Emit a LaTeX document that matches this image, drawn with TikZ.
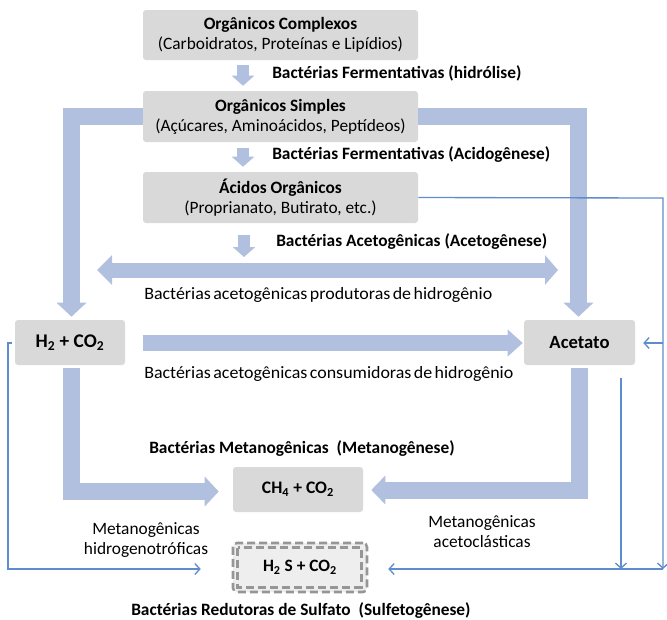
\documentclass[tikz,border=0pt]{standalone}
\usepackage{fontspec}
\setmainfont{Carlito}
\newfontfamily\widefont[FakeStretch=1.035,WordSpace=0.6]{Carlito}
\usetikzlibrary{arrows.meta,calc}
\definecolor{arrowblue}{RGB}{176,192,222}
\definecolor{boxgray}{RGB}{217,217,217}
\definecolor{lineblue}{RGB}{95,140,205}
\definecolor{dashgray}{RGB}{150,150,150}
\definecolor{h2sfill}{RGB}{238,238,238}
\begin{document}
\begin{tikzpicture}[x=0.75pt,y=-0.75pt,
  box/.style={fill=boxgray, rounded corners=2.25pt, align=center, inner sep=0pt, font=\fontsize{13}{15}\selectfont},
  lbl/.style={anchor=west, inner sep=0pt, font=\fontsize{13}{15}\selectfont\bfseries},
  nlbl/.style={inner sep=0pt, font=\fontsize{13}{15}\selectfont, align=center},
  wlbl/.style={inner sep=0pt, anchor=west, font=\fontsize{13}{15}\widefont},
  bigarrow/.style={draw=arrowblue, line width=12.75pt, -{Triangle[width=21.75pt,length=10.5pt]}},
  smallarrow/.style={draw=arrowblue, line width=9pt, -{Triangle[width=16.5pt,length=7.5pt]}},
  thinline/.style={draw=lineblue, line width=1pt},
  tarrow/.style={thinline, -{Straight Barb[length=3.75pt,width=8.25pt]}}
]
\useasboundingbox (0,0) rectangle (667,619);

% boxes
\node[box, minimum width=206.25pt, minimum height=37.5pt] (b1) at (280.5,35)
  {\textbf{Orgânicos Complexos}\\(Carboidratos, Proteínas e Lipídios)};
\node[box, minimum width=206.25pt, minimum height=38.25pt] (b2) at (280.5,116.5)
  {\textbf{Orgânicos Simples}\\(Açúcares, Aminoácidos, Peptídeos)};
\node[box, minimum width=206.25pt, minimum height=38.25pt] (b3) at (280.5,197.5)
  {\textbf{Ácidos Orgânicos}\\(Proprianato, Butirato, etc.)};
\node[box, minimum width=82.5pt, minimum height=33.75pt, font=\fontsize{14.5}{15}\selectfont\bfseries] (h2) at (70,342.5)
  {H\textsubscript{2} + CO\textsubscript{2}};
\node[box, minimum width=83.25pt, minimum height=33.75pt, font=\fontsize{14}{15}\selectfont\bfseries] (ac) at (579.5,342.5)
  {Acetato};
\node[box, minimum width=97.5pt, minimum height=33.75pt, font=\fontsize{13.2}{15}\selectfont\bfseries] (ch4) at (298,489.5)
  {CH\textsubscript{4} + CO\textsubscript{2}};
\node[fill=h2sfill, draw=dashgray, line width=1.9pt, dash pattern=on 6pt off 3pt, rounded corners=3pt,
  minimum width=100.5pt, minimum height=36.75pt, inner sep=0pt, font=\fontsize{13}{15}\selectfont\bfseries] (h2s) at (300,567.5)
  {H\textsubscript{2} S + CO\textsubscript{2}};
\draw[draw=dashgray, line width=1.9pt, dash pattern=on 6pt off 3pt]
  ($(h2s.north west)+(6,6)$) rectangle ($(h2s.south east)+(-7,-6)$);

% labels
\node[lbl] (l1) at (272,73) {Bactérias Fermentativas (hidrólise)};
\node[lbl] (l2) at (272,155) {Bactérias Fermentativas (Acidogênese)};
\node[lbl] (l3) at (276,242) {Bactérias Acetogênicas (Acetogênese)};
\node[wlbl] (l4) at (144,295) {Bactérias acetogênicas produtoras de hidrogênio};
\node[wlbl] (l5) at (144,374) {Bactérias acetogênicas consumidoras de hidrogênio};
\node[lbl] (l6) at (149,449) {Bactérias Metanogênicas\ \ (Metanogênese)};
\node[nlbl] (l7) at (146,540) {Metanogênicas\\hidrogenotróficas};
\node[nlbl] (l8) at (482,532) {Metanogênicas\\acetoclásticas};
\node[lbl] (l9) at (131,611) {Bactérias Redutoras de Sulfato\ \ (Sulfetogênese)};

% coordinates
\coordinate (da) at (244,257);
\coordinate (dl) at (97,270);
\coordinate (dr) at (558,270);
\coordinate (rt) at (663,198);
\coordinate (rm) at (663,343);
\coordinate (rb) at (663,569);
\coordinate (mt) at (621,378);
\coordinate (mb) at (621,569);
\coordinate (lt) at (8,343);
\coordinate (lb) at (8,569);

% small arrows
\draw[smallarrow] ($(b1.south)+(-37.5,5)$) -- ($(b2.north)+(-37.5,-5)$);
\draw[smallarrow] ($(b2.south)+(-37.5,6)$) -- ($(b3.north)+(-37.5,-5)$);
\draw[smallarrow] ($(b3.south)+(-36.5,12)$) -- (da);

% double arrow
\draw[draw=arrowblue, line width=11.25pt, {Triangle[width=21.75pt,length=11.25pt]}-{Triangle[width=21.75pt,length=9.75pt]}] (dl) -- (dr);

% big L arrows
\draw[bigarrow] (b2.west) -| ($(h2.north)+(1.5,-3)$);
\draw[bigarrow] (b2.east) -| ($(ac.north)+(-1,-3)$);
\draw[bigarrow, line width=12pt, -{Triangle[width=19.5pt,length=11.25pt]}] ($(h2.east)+(18,0.5)$) -- ($(ac.west)+(-1,0.5)$);
\draw[bigarrow] ($(h2.south)+(1.5,3)$) |- ($(ch4.west)+(-14,2)$);
\draw[bigarrow, -{Triangle[width=21pt,length=10.5pt]}] ($(ac.south)+(-0.5,3)$) |- ($(ch4.east)+(8,0.5)$);

% thin lines
\draw[tarrow] (b3.east) -- (rt) -- (rb);
\draw[tarrow] (rm) -- ($(ac.east)+(8,0.5)$);
\draw[tarrow] (rb) -- ($(h2s.east)+(20,1.5)$);
\draw[tarrow] (mt) -- (mb);
\draw[tarrow] ($(h2.west)+(-3,0.5)$) -- (lt) -- (lb) -- ($(h2s.west)+(-31,1.5)$);
\end{tikzpicture}
\end{document}
